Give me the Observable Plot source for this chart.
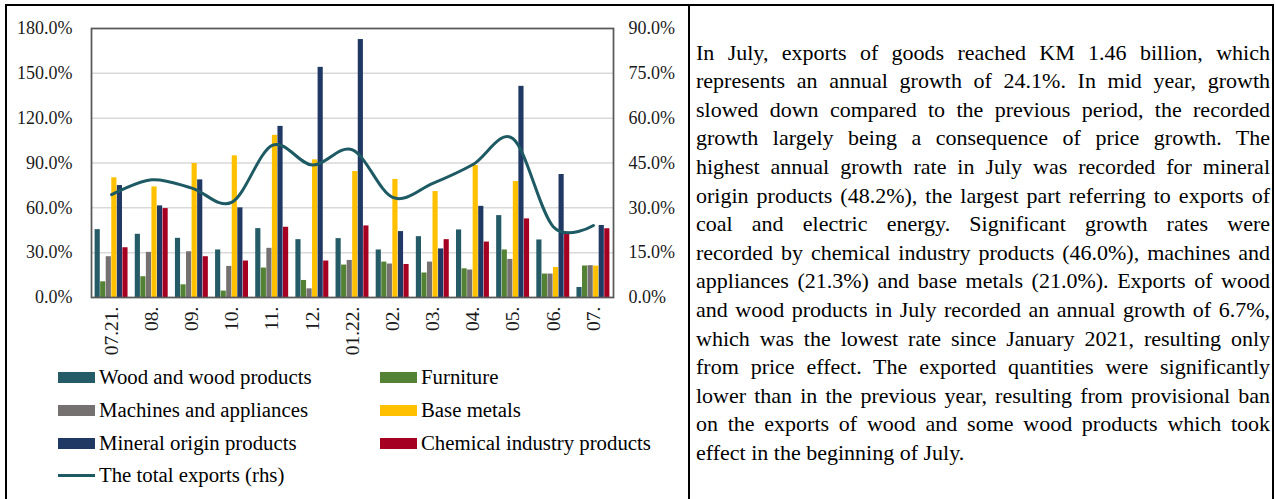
<!DOCTYPE html>
<html>
<head>
<meta charset="utf-8">
<script src="https://cdn.jsdelivr.net/npm/d3@7"></script>
<script src="https://cdn.jsdelivr.net/npm/@observablehq/plot@0.6"></script>
<style>
  html, body { margin: 0; padding: 0; background: #fff; }
  body { width: 1276px; height: 499px; position: relative; overflow: hidden; font-family: "Liberation Serif", "Times New Roman", serif; color: #000; }
  #box { position: absolute; left: 5px; top: 4px; width: 1269px; height: 540px; border: 2px solid #000; box-sizing: border-box; }
  #divider { position: absolute; left: 688px; top: 4px; width: 2px; height: 540px; background: #000; }
  #chart { position: absolute; left: 0; top: 0; }
  #chart svg { background: transparent; overflow: visible; }
  .leg { position: absolute; font-size: 20.8px; line-height: 22px; white-space: nowrap; }
  .sw { position: absolute; width: 37px; height: 11px; }
  .swl { position: absolute; width: 37px; height: 3px; }
  #text { position: absolute; left: 696px; top: 38.7px; width: 574px; font-size: 22px; line-height: 28.6px; }
  #text div { text-align: justify; text-align-last: justify; white-space: nowrap; }
  #text div.last { text-align: left; text-align-last: left; }
</style>
</head>
<body>
<div id="box"></div>
<div id="divider"></div>
<div id="chart"></div>
<div id="legend"></div>
<div id="text"></div>
<script>
const months = ["07.21.", "08.", "09.", "10.", "11.", "12.", "01.22.", "02.", "03.", "04.", "05.", "06.", "07."];
const seriesNames = ["Wood and wood products", "Furniture", "Machines and appliances", "Base metals", "Mineral origin products", "Chemical industry products"];
const seriesColors = ["#245b67", "#548235", "#767171", "#ffc000", "#203864", "#a50021"];
const wood      = [45.4, 42.3, 39.6, 31.8, 46.1, 38.7, 39.4, 31.8, 40.7, 45.2, 54.8, 38.5, 6.7];
const furniture = [10.5, 13.9, 8.5, 4.3, 19.7, 11.4, 21.7, 23.7, 16.4, 19.2, 31.8, 15.7, 21.1];
const machines  = [27.3, 30.2, 30.6, 20.8, 32.9, 5.8, 24.8, 22.4, 23.7, 18.4, 25.5, 15.7, 21.3];
const baseMetals= [80.1, 74.0, 89.7, 94.8, 108.5, 92.1, 84.3, 79.0, 70.9, 88.3, 77.6, 20.1, 21.0];
const mineral   = [74.9, 61.3, 78.7, 60.0, 114.5, 154.0, 172.6, 44.1, 32.5, 61.0, 141.3, 82.3, 48.2];
const chemical  = [33.3, 59.5, 27.3, 24.4, 47.0, 24.4, 47.9, 22.1, 38.7, 37.1, 52.6, 43.6, 46.0];
const totalExportsRhs = [34.4, 39.4, 36.6, 31.9, 50.9, 44.3, 49.4, 33.5, 38.2, 44.5, 53.1, 23.7, 24.1];
const totalName = "The total exports (rhs)";
const leftTicks = [0, 30, 60, 90, 120, 150, 180];
const rightTicks = [0, 15, 30, 45, 60, 75, 90];
const gridTicks = [30, 60, 90, 120, 150];
const paragraphLines = [
  "In July, exports of goods reached KM 1.46 billion, which",
  "represents an annual growth of 24.1%. In mid year, growth",
  "slowed down compared to the previous period, the recorded",
  "growth largely being a consequence of price growth. The",
  "highest annual growth rate in July was recorded for mineral",
  "origin products (48.2%), the largest part referring to exports of",
  "coal and electric energy. Significant growth rates were",
  "recorded by chemical industry products (46.0%), machines and",
  "appliances (21.3%) and base metals (21.0%). Exports of wood",
  "and wood products in July recorded an annual growth of 6.7%,",
  "which was the lowest rate since January 2021, resulting only",
  "from price effect. The exported quantities were significantly",
  "lower than in the previous year, resulting from provisional ban",
  "on the exports of wood and some wood products which took",
  "effect in the beginning of July."
];

const seriesValues = [wood, furniture, machines, baseMetals, mineral, chemical];
const bars = [];
seriesValues.forEach((vals, k) => vals.forEach((v, i) => bars.push({i, k, s: seriesNames[k], v})));
const total = totalExportsRhs.map((v, i) => ({i, v}));
const ratio = leftTicks[leftTicks.length - 1] / rightTicks[rightTicks.length - 1];
const groupW = 0.83, barW = groupW / 6;

const W = 689, H = 365;
const chart = Plot.plot({
  width: W, height: H,
  marginLeft: 91, marginRight: W - 613, marginTop: 28, marginBottom: H - 297,
  style: {fontFamily: "Liberation Serif, serif", fontSize: "18px", color: "#1a1a1a", background: "transparent"},
  x: {type: "linear", domain: [-0.5, months.length - 0.5]},
  y: {domain: [0, 180]},
  color: {domain: seriesNames, range: seriesColors},
  marks: [
    Plot.ruleY(gridTicks, {stroke: "#d9d9d9", strokeWidth: 1.5}),
    Plot.rectY(bars, {
      x1: d => d.i - groupW / 2 + d.k * barW,
      x2: d => d.i - groupW / 2 + (d.k + 1) * barW,
      y1: 0, y2: "v", fill: "s", insetLeft: 0.2, insetRight: 0.2
    }),
    Plot.line(total, {x: "i", y: d => d.v * ratio, stroke: "#1d5a63", strokeWidth: 3, curve: "cardinal", tension: 0}),
    Plot.frame({stroke: "#595959", strokeWidth: 1.75}),
    Plot.axisY({ticks: leftTicks, tickFormat: d => d.toFixed(1) + "%", tickSize: 0, tickPadding: 19, label: null, fontSize: 18}),
    Plot.axisY({anchor: "right", ticks: rightTicks.map(t => t * ratio), tickFormat: d => (d / ratio).toFixed(1) + "%", tickSize: 0, tickPadding: 15, label: null, fontSize: 18}),
    Plot.axisX({ticks: d3.range(months.length), tickFormat: i => months[i], tickRotate: -90, tickSize: 0, tickPadding: 9, label: null, fontSize: 19.5})
  ]
});
document.getElementById("chart").appendChild(chart);

// Legend
const legend = document.getElementById("legend");
const rowY = [377, 410, 443, 475];
const colX = [58, 380];
const legItems = seriesNames.map((n, k) => ({name: n, color: seriesColors[k], type: "rect"}));
legItems.push({name: totalName, color: "#1d5a63", type: "line"});
legItems.forEach((it, idx) => {
  const col = idx % 2, row = Math.floor(idx / 2);
  const cy = rowY[row], x = colX[col];
  const sw = document.createElement("div");
  sw.className = it.type === "rect" ? "sw" : "swl";
  sw.style.left = x + "px";
  sw.style.top = (cy - (it.type === "rect" ? 5.5 : 1.5)) + "px";
  sw.style.background = it.color;
  legend.appendChild(sw);
  const t = document.createElement("div");
  t.className = "leg";
  t.style.left = (x + 41) + "px";
  t.style.top = (cy - 11) + "px";
  t.textContent = it.name;
  legend.appendChild(t);
});

// Paragraph
const text = document.getElementById("text");
paragraphLines.forEach((ln, i) => {
  const d = document.createElement("div");
  if (i === paragraphLines.length - 1) d.className = "last";
  d.textContent = ln;
  text.appendChild(d);
});
</script>
</body>
</html>
